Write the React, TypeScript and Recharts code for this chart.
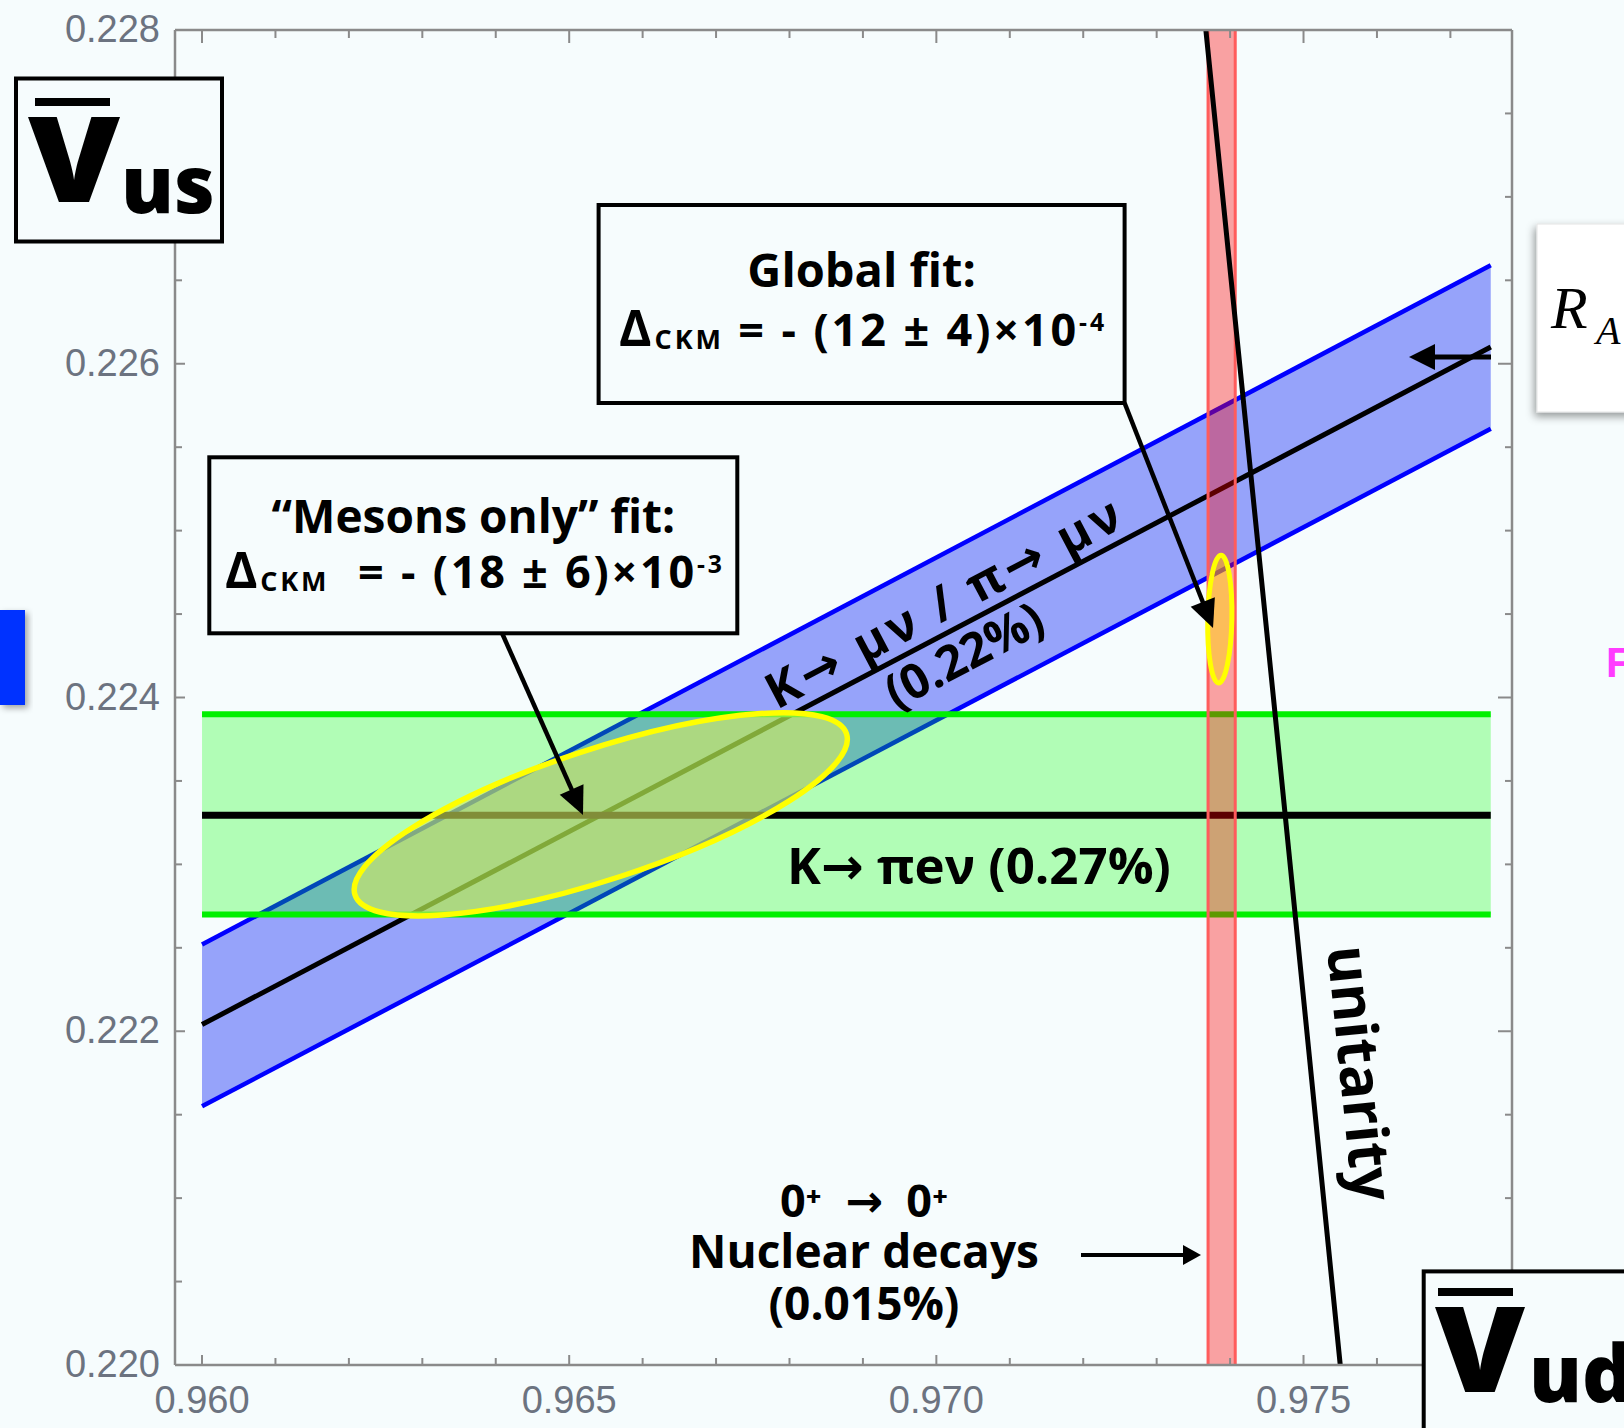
import React from 'react'
import { ComposedChart, Area, Line, XAxis, YAxis, ReferenceArea } from 'recharts'

// axis ticks
const vudTicks = [0.960, 0.961, 0.962, 0.963, 0.964, 0.965, 0.966, 0.967, 0.968, 0.969, 0.970, 0.971, 0.972, 0.973, 0.974, 0.975, 0.976, 0.977]
const vudLabels = [0.960, 0.965, 0.970, 0.975]
const vusTicks = [0.2200, 0.2205, 0.2210, 0.2215, 0.2220, 0.2225, 0.2230, 0.2235, 0.2240, 0.2245, 0.2250, 0.2255, 0.2260, 0.2265, 0.2270, 0.2275, 0.2280]
const vusLabels = [0.220, 0.222, 0.224, 0.226, 0.228]
const vudDomain = [0.959632, 0.977839]
const vusDomain = [0.220, 0.228]

// K -> mu nu / pi -> mu nu band
const kmuVud = [0.960, 0.97755]
const kmuLow = [0.22155, 0.22561]
const kmuCentral = [0.22204, 0.22610]
const kmuHigh = [0.22252, 0.22659]

// K -> pi e nu band
const kl3Vud = [0.960, 0.97755]
const kl3Low = [0.22270, 0.22270]
const kl3Central = [0.223295, 0.223295]
const kl3High = [0.22390, 0.22390]

// 0+ -> 0+ nuclear decays band
const nuclearVud = [0.97370, 0.97407]
const nuclearVus = [0.220, 0.228]

// unitarity curve
const unitarityVus = [0.220, 0.224, 0.228]
const unitarityVud = [0.97550, 0.97459, 0.97367]

// fit ellipses: mesons only, global
const fitVud = [0.96543, 0.97386]
const fitVus = [0.22330, 0.22447]
const fitHalfVud = [0.003358, 0.000165]
const fitHalfVus = [0.000609, 0.000383]
const fitRho = [0.74, 0.1]

const kmuRows = kmuVud.map((vud, i) => ({ vud, band: [kmuLow[i], kmuHigh[i]], central: kmuCentral[i] }))
const kl3Rows = kl3Vud.map((vud, i) => ({ vud, band: [kl3Low[i], kl3High[i]], central: kl3Central[i] }))
const nuclearRows = nuclearVud.map(vud => ({ vud, band: [nuclearVus[0], nuclearVus[1]] }))
const nuclearLeft = nuclearVus.map(vus => ({ vud: nuclearVud[0], vus }))
const nuclearRight = nuclearVus.map(vus => ({ vud: nuclearVud[1], vus }))
const unitarityRows = unitarityVus.map((vus, i) => ({ vud: unitarityVud[i], vus }))

const bg = '#f6fcfd'
const frame = '#8a8a8a'
const tickColor = '#6c7380'
const tickFont = "'Liberation Sans', Arial, sans-serif"
const labelFont = "'Open Sans', 'DejaVu Sans', sans-serif"

const isMajor = (list: number[], v: number) => list.some(t => Math.abs(t - v) < 1e-7)

const BottomTick = ({ x, y, payload }: any) => {
  const major = isMajor(vudLabels, payload.value)
  return (
    <g>
      <line x1={x} y1={y} x2={x} y2={y - (major ? 10 : 7)} stroke={frame} strokeWidth={2} />
      {major && (
        <text x={x} y={y + 48} textAnchor="middle" fontFamily={tickFont} fontSize={38} fill={tickColor}>
          {payload.value.toFixed(3)}
        </text>
      )}
    </g>
  )
}

const TopTick = ({ x, y, payload }: any) => {
  const major = isMajor(vudLabels, payload.value)
  return <line x1={x} y1={y} x2={x} y2={y + (major ? 13 : 8)} stroke={frame} strokeWidth={2} />
}

const LeftTick = ({ x, y, payload }: any) => {
  const major = isMajor(vusLabels, payload.value)
  return (
    <g>
      <line x1={x} y1={y} x2={x + (major ? 10 : 7)} y2={y} stroke={frame} strokeWidth={2} />
      {major && (
        <text x={x - 15} y={y + 12} textAnchor="end" fontFamily={tickFont} fontSize={38} fill={tickColor}>
          {payload.value.toFixed(3)}
        </text>
      )}
    </g>
  )
}

const RightTick = ({ x, y, payload }: any) => {
  const major = isMajor(vusLabels, payload.value)
  return <line x1={x} y1={y} x2={x - (major ? 14 : 7)} y2={y} stroke={frame} strokeWidth={2} />
}

// correlated error ellipse inscribed in the reference rectangle
const FitEllipse = (props: any) => {
  const { x, y, width, height, rho, fill, fillOpacity, stroke, strokeWidth } = props
  const a = width / 2
  const b = height / 2
  const sxy = rho * a * b
  const half = (a * a - b * b) / 2
  const mean = (a * a + b * b) / 2
  const root = Math.sqrt(half * half + sxy * sxy)
  const r1 = Math.sqrt(mean + root)
  const r2 = Math.sqrt(Math.max(mean - root, 0))
  const angle = (Math.atan2(2 * sxy, a * a - b * b) / 2) * 180 / Math.PI
  const cx = x + a
  const cy = y + b
  return (
    <ellipse cx={cx} cy={cy} rx={r1} ry={r2} transform={`rotate(${-angle} ${cx} ${cy})`}
      fill={fill} fillOpacity={fillOpacity} stroke={stroke} strokeWidth={strokeWidth} />
  )
}

const Arrow = ({ x1, y1, x2, y2, head = 28, width = 26, sw = 4.5 }: any) => {
  const len = Math.hypot(x2 - x1, y2 - y1)
  const ux = (x2 - x1) / len
  const uy = (y2 - y1) / len
  const bx = x2 - ux * head
  const by = y2 - uy * head
  const nx = -uy * width / 2
  const ny = ux * width / 2
  return (
    <g>
      <line x1={x1} y1={y1} x2={bx + ux * 3} y2={by + uy * 3} stroke="#000" strokeWidth={sw} />
      <polygon points={`${x2},${y2} ${bx + nx},${by + ny} ${bx - nx},${by - ny}`} fill="#000" />
    </g>
  )
}

const Delta = ({ rest, exp }: { rest: string; exp: string }) => (
  <>
    <tspan fontSize="1.1em">Δ</tspan>
    <tspan fontSize="0.6em" dy={3}>CKM</tspan>
    <tspan dy={-3}>{rest}</tspan>
    <tspan fontSize="0.55em" dy={-15}>{exp}</tspan>
  </>
)

const Overlay = () => (
  <svg width={1624} height={1428} style={{ position: 'absolute', left: 0, top: 0, pointerEvents: 'none' }}>
    <defs>
      <filter id="shadow" x="-30%" y="-30%" width="160%" height="160%">
        <feDropShadow dx={-2} dy={4} stdDeviation={4} floodColor="#000" floodOpacity={0.4} />
      </filter>
      <filter id="shadow2" x="-30%" y="-30%" width="160%" height="160%">
        <feDropShadow dx={3} dy={3} stdDeviation={3} floodColor="#000" floodOpacity={0.35} />
      </filter>
    </defs>

    {/* corner labels */}
    <rect x={16} y={78.5} width={206} height={163} fill={bg} stroke="#000" strokeWidth={4} />
    <line x1={35} x2={110} y1={102} y2={102} stroke="#000" strokeWidth={8} />
    <text x={28} y={202} fontFamily={labelFont} fontWeight={800} fontSize={118} textLength={92} lengthAdjust="spacingAndGlyphs">V</text>
    <text x={121} y={213} fontFamily={labelFont} fontWeight={800} fontSize={79}>us</text>

    <rect x={1423.7} y={1271.4} width={400} height={300} fill={bg} stroke="#000" strokeWidth={4} />
    <line x1={1438} x2={1513} y1={1292} y2={1292} stroke="#000" strokeWidth={8} />
    <text x={1435} y={1392} fontFamily={labelFont} fontWeight={800} fontSize={118} textLength={90} lengthAdjust="spacingAndGlyphs">V</text>
    <text x={1529} y={1402} fontFamily={labelFont} fontWeight={800} fontSize={79}>ud</text>

    <rect x={1537} y={224} width={200} height={188} fill="#ffffff" stroke="#e4e4e4" strokeWidth={1} filter="url(#shadow)" />
    <text x={1551} y={328} fontFamily="'Liberation Serif', serif" fontStyle="italic" fontSize={60}>R</text>
    <text x={1596} y={344} fontFamily="'Liberation Serif', serif" fontStyle="italic" fontSize={40}>A</text>

    <rect x={0} y={610} width={25} height={95} fill="#0530ff" filter="url(#shadow2)" />
    <text x={1606} y={677} fontFamily={tickFont} fontWeight={700} fontSize={42} fill="#ff3cff">F</text>

    {/* fit boxes */}
    <rect x={598.6} y={205} width={526} height={198} fill={bg} stroke="#000" strokeWidth={4} />
    <text x={861.6} y={287} textAnchor="middle" fontFamily={labelFont} fontWeight={700} fontSize={47}>Global fit:</text>
    <text x={861.6} y={346} textAnchor="middle" fontFamily={labelFont} fontWeight={700} fontSize={45}
      textLength={485} lengthAdjust="spacing" style={{ whiteSpace: 'pre' }}>
      <Delta rest=" = - (12 ± 4)×10" exp="-4" />
    </text>

    <rect x={209.3} y={457.3} width={528} height={176} fill={bg} stroke="#000" strokeWidth={4} />
    <text x={473.4} y={533} textAnchor="middle" fontFamily={labelFont} fontWeight={700} fontSize={46}>“Mesons only” fit:</text>
    <text x={473.4} y={588} textAnchor="middle" fontFamily={labelFont} fontWeight={700} fontSize={45}
      textLength={497} lengthAdjust="spacing" style={{ whiteSpace: 'pre' }}>
      <Delta rest="  = - (18 ± 6)×10" exp="-3" />
    </text>

    <Arrow x1={502} y1={633} x2={583} y2={815} />
    <Arrow x1={1124.6} y1={403} x2={1213} y2={628} />
    <Arrow x1={1081} y1={1255} x2={1201} y2={1255} head={18} width={20} sw={4} />
    <Arrow x1={1491} y1={357} x2={1409} y2={357} head={26} width={26} sw={5} />

    {/* band labels */}
    <text transform="translate(951 618) rotate(-27.8)" textAnchor="middle" fontFamily={labelFont} fontWeight={700} fontSize={49}
      textLength={394} lengthAdjust="spacing" style={{ whiteSpace: 'pre' }}>K→ μν / π→ μν</text>
    <text transform="translate(972 670) rotate(-27.8)" textAnchor="middle" fontFamily={labelFont} fontWeight={700} fontSize={48}>(0.22%)</text>
    <text x={979} y={884} textAnchor="middle" fontFamily={labelFont} fontWeight={700} fontSize={51}>K→ πeν (0.27%)</text>
    <text transform="translate(1340 1075) rotate(84.2)" textAnchor="middle" fontFamily={labelFont} fontWeight={700} fontSize={58}>unitarity</text>

    <text x={864} y={1217} textAnchor="middle" fontFamily={labelFont} fontWeight={700} fontSize={45} style={{ whiteSpace: 'pre' }}>0⁺  →  0⁺</text>
    <text x={864} y={1268} textAnchor="middle" fontFamily={labelFont} fontWeight={700} fontSize={46}>Nuclear decays</text>
    <text x={864} y={1320} textAnchor="middle" fontFamily={labelFont} fontWeight={700} fontSize={46}>(0.015%)</text>
  </svg>
)

export default function App() {
  return (
    <div style={{ position: 'absolute', left: 0, top: 0, width: 1624, height: 1428, background: bg, overflow: 'hidden' }}>
      <ComposedChart width={1624} height={1428} margin={{ top: 29, right: 111, bottom: 0, left: 0 }}>
        <XAxis xAxisId={0} dataKey="vud" type="number" domain={vudDomain} allowDataOverflow ticks={vudTicks} interval={0}
          height={63} tickSize={0} tickMargin={0} tickLine={false} axisLine={{ stroke: frame, strokeWidth: 2.5 }} tick={<BottomTick />} />
        <XAxis xAxisId="top" orientation="top" dataKey="vud" type="number" domain={vudDomain} allowDataOverflow ticks={vudTicks} interval={0}
          height={1} tickSize={0} tickMargin={0} tickLine={false} axisLine={{ stroke: frame, strokeWidth: 2.5 }} tick={<TopTick />} />
        <YAxis yAxisId={0} type="number" domain={vusDomain} allowDataOverflow ticks={vusTicks} interval={0}
          width={175} tickSize={0} tickMargin={0} tickLine={false} axisLine={{ stroke: frame, strokeWidth: 2.5 }} tick={<LeftTick />} />
        <YAxis yAxisId="right" orientation="right" type="number" domain={vusDomain} allowDataOverflow ticks={vusTicks} interval={0}
          width={1} tickSize={0} tickMargin={0} tickLine={false} axisLine={{ stroke: frame, strokeWidth: 2.5 }} tick={<RightTick />} />

        <Area data={kmuRows} dataKey="band" type="linear" fill="#96a3fa" fillOpacity={1} stroke="#0000ff" strokeWidth={4.5}
          isAnimationActive={false} dot={false} activeDot={false} zIndex={101} />
        <Line data={kmuRows} dataKey="central" type="linear" stroke="#000" strokeWidth={5}
          isAnimationActive={false} dot={false} activeDot={false} zIndex={102} />

        <Area data={kl3Rows} dataKey="band" type="linear" fill="#00ff00" fillOpacity={0.28} stroke="#00f000" strokeWidth={6}
          isAnimationActive={false} dot={false} activeDot={false} zIndex={103} />
        <Line data={kl3Rows} dataKey="central" type="linear" stroke="#000" strokeWidth={7}
          isAnimationActive={false} dot={false} activeDot={false} zIndex={104} />

        <Area data={nuclearRows} dataKey="band" type="linear" fill="#ff0000" fillOpacity={0.36} stroke="none"
          isAnimationActive={false} dot={false} activeDot={false} zIndex={105} />
        <Line data={nuclearLeft} dataKey="vus" type="linear" stroke="#ff5c5c" strokeWidth={3}
          isAnimationActive={false} dot={false} activeDot={false} zIndex={106} />
        <Line data={nuclearRight} dataKey="vus" type="linear" stroke="#ff5c5c" strokeWidth={3}
          isAnimationActive={false} dot={false} activeDot={false} zIndex={106} />

        <ReferenceArea x1={fitVud[0] - fitHalfVud[0]} x2={fitVud[0] + fitHalfVud[0]} y1={fitVus[0] - fitHalfVus[0]} y2={fitVus[0] + fitHalfVus[0]}
          ifOverflow="visible" fill="#d7eb5f" fillOpacity={0.6} stroke="#ffff00" strokeWidth={5.5} zIndex={107}
          shape={(p: any) => <FitEllipse {...p} rho={fitRho[0]} />} />
        <ReferenceArea x1={fitVud[1] - fitHalfVud[1]} x2={fitVud[1] + fitHalfVud[1]} y1={fitVus[1] - fitHalfVus[1]} y2={fitVus[1] + fitHalfVus[1]}
          ifOverflow="visible" fill="#ffe000" fillOpacity={0.45} stroke="#ffff00" strokeWidth={5} zIndex={107}
          shape={(p: any) => <FitEllipse {...p} rho={fitRho[1]} />} />

        <Line data={unitarityRows} dataKey="vus" type="linear" stroke="#000" strokeWidth={5}
          isAnimationActive={false} dot={false} activeDot={false} zIndex={108} />
      </ComposedChart>
      <Overlay />
    </div>
  )
}
